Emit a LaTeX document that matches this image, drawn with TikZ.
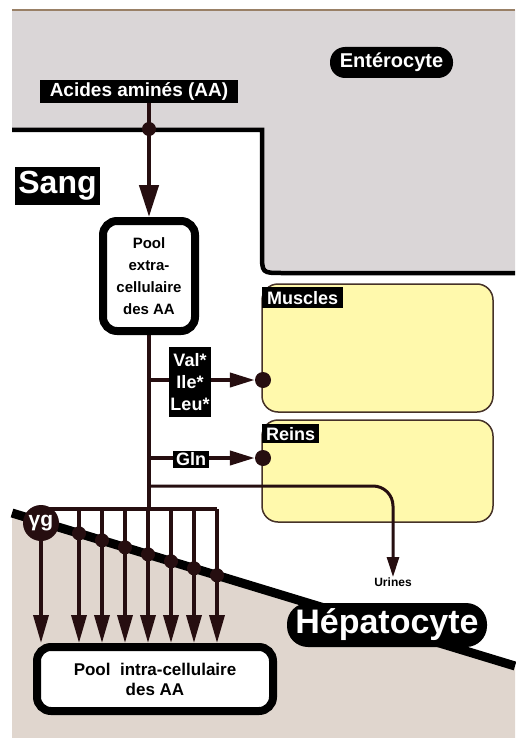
\documentclass[tikz,border=0pt]{standalone}
\usepackage{fontspec}
\setmainfont{Liberation Sans}
\usetikzlibrary{arrows.meta}
\definecolor{entgrey}{RGB}{218,214,215}
\definecolor{hepbeige}{RGB}{224,214,206}
\definecolor{organyellow}{RGB}{255,249,172}
\definecolor{organline}{RGB}{70,50,40}
\definecolor{dotc}{RGB}{38,14,16}
\pgfdeclarelayer{bg}
\pgfdeclarelayer{mid}
\pgfsetlayers{bg,mid,main}
\begin{document}
\begin{tikzpicture}[x=1pt,y=-1pt,
  blacklabel/.style={fill=black,text=white,inner sep=0pt,align=center},
  poolbox/.style={draw=black,line width=8pt,fill=white,rounded corners=14pt,inner sep=0pt,align=center},
  organ/.style={draw=organline,line width=1.5pt,fill=organyellow,rounded corners=16pt,inner sep=0pt},
  dotnode/.style={circle,fill=dotc,inner sep=0pt,minimum size=14pt},
  conn/.style={line width=4pt,draw=dotc},
  arr/.style={line width=4pt,draw=dotc,-{Triangle[length=25pt,width=14pt]}},
  harr/.style={line width=3.5pt,draw=dotc,-{Triangle[length=28pt,width=15pt]}},
  uarr/.style={line width=3pt,draw=dotc,rounded corners=20pt,-{Triangle[length=20pt,width=12pt]}},
]
\useasboundingbox (0,0) rectangle (515,738);
\begin{pgfonlayer}{bg}
  \fill[white] (0,0) rectangle (515,738);
  % enterocyte
  \fill[entgrey] (12,10) -- (515,10) -- (515,273) -- (282,273) .. controls (262,273) .. (262,253) -- (262,130) -- (12,130) -- cycle;
  \draw[line width=1.5pt, draw=gray!60!brown] (12,10) -- (515,10);
  \draw[line width=4.5pt, draw=black] (12,130) -- (262,130) -- (262,253) .. controls (262,273) .. (282,273) -- (515,273);
  % hepatocyte
  \fill[hepbeige] (12,513) -- (515,666) -- (515,738) -- (12,738) -- cycle;
  \draw[line width=9pt, draw=black] (12,513) -- (515,666);
  % organs
  \node[organ, minimum width=231pt, minimum height=128pt] (mus) at (377.5,348) {};
  \node[organ, minimum width=231pt, minimum height=102pt] (rei) at (377.5,471) {};
\end{pgfonlayer}

\node[blacklabel, anchor=north west, minimum width=81pt, minimum height=21pt,
      font=\bfseries\fontsize{18}{18}\selectfont] (muslab) at (262,287) {Muscles};
\node[blacklabel, anchor=north west, minimum width=57pt, minimum height=19pt,
      font=\bfseries\fontsize{18}{18}\selectfont] (reilab) at (262,424) {Reins};

% labels
\node[blacklabel, minimum width=198pt, minimum height=23pt,
      font=\bfseries\fontsize{19}{19}\selectfont] (aa) at (139,91.5) {Acides aminés (AA)};
\node[blacklabel, rounded corners=15pt, minimum width=123pt, minimum height=31pt,
      font=\bfseries\fontsize{20}{20}\selectfont] (ent) at (391.5,62.5) {Entérocyte};
\node[blacklabel, minimum width=85pt, minimum height=38pt,
      font=\bfseries\fontsize{32}{32}\selectfont] (sang) at (57.5,186) {Sang};
\node[blacklabel, rounded corners=21pt, minimum width=200pt, minimum height=44pt,
      font=\bfseries\fontsize{34}{34}\selectfont] (hep) at (387,625) {Hépatocyte};

% pools
\node[poolbox, minimum width=92pt, minimum height=110pt,
      font=\bfseries\fontsize{15}{22}\selectfont] (pe) at (149,276)
      {Pool\\extra-\\cellulaire\\des AA};
\node[poolbox, minimum width=236pt, minimum height=64pt,
      font=\bfseries\fontsize{17}{20}\selectfont] (pi) at (155,679)
      {Pool\ \ intra-cellulaire\\des AA};

% dots
\node[dotnode] (d0) at (149,129) {};
\node[dotnode, minimum size=16pt] (dm) at (263,380) {};
\node[dotnode, minimum size=16pt] (dr) at (263,458) {};
\node[circle, fill=dotc, text=white, inner sep=0pt, minimum size=36pt,
      font=\bfseries\fontsize{21}{21}\selectfont] (gg) at (41,523) {γg};

% amino-acid boxes on branches
\node[blacklabel, minimum width=42pt, minimum height=70pt,
      font=\bfseries\fontsize{18}{22}\selectfont] (vil) at (190,382) {Val*\\Ile*\\Leu*};
\node[blacklabel, minimum width=36pt, minimum height=17pt,
      font=\bfseries\fontsize{18}{18}\selectfont] (gln) at (191,459) {Gln};

\node[anchor=north, inner sep=1pt, font=\bfseries\fontsize{12}{12}\selectfont] (urines) at (393,577) {Urines};

% junction coordinates
\coordinate (jv) at (149,380);
\coordinate (jg) at (149,458);
\coordinate (ju) at (149,486);
\coordinate (j) at (149,509);
\coordinate (bar0) at (41,509);
\coordinate (bar7) at (217,509);

\foreach \i/\x in {1/79,2/102,3/125,4/148,5/171,6/194,7/217}{
  \coordinate (t\i) at (\x,509);
  \node[dotnode] (m\i) at (\x,{513+0.304*(\x-12)}) {};
}

\begin{pgfonlayer}{mid}
  \draw[line width=4.5pt, draw=dotc, -{Triangle[length=32pt,width=19pt]}] (aa.south -| pe.north) -- (pe.north);
  \draw[line width=4.5pt, draw=dotc] (pe.south) -- (j);
  \draw[conn] (bar0) -- (bar7);
  \draw[arr] (jv) -- (dm);
  \draw[arr] (jg) -- (dr);
  \draw[uarr] (ju) -| (urines.north);
  \draw[harr] (gg.south) -- (gg.south |- pi.north);
  \foreach \i in {1,...,7}{
    \draw[harr] (t\i) -- (t\i |- pi.north);
  }
\end{pgfonlayer}
\end{tikzpicture}
\end{document}
